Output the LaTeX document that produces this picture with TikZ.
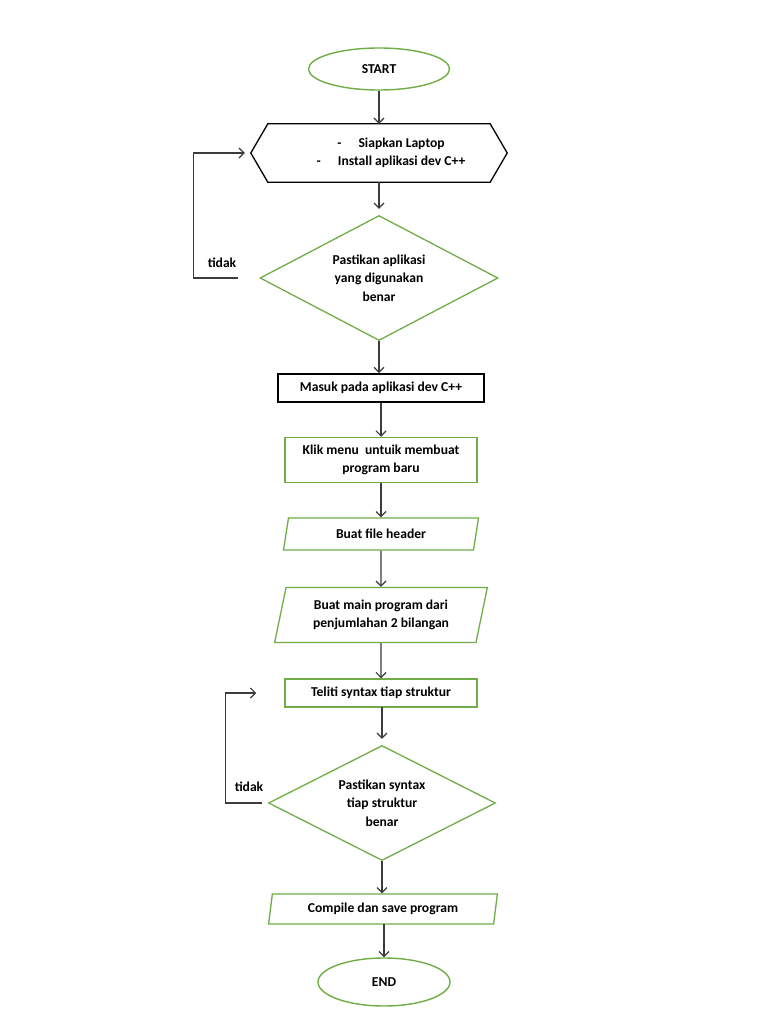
\documentclass[tikz,border=0pt]{standalone}
\usepackage{fontspec}
\setmainfont{Carlito}
\usetikzlibrary{shapes.geometric,arrows.meta}
\definecolor{hijau}{RGB}{112,173,71}
\definecolor{panah}{RGB}{60,60,60}
\tikzset{
	every node/.style={font=\fontsize{13.6}{18.5}\selectfont\bfseries, align=center},
	oval/.style={ellipse, draw=hijau, line width=1.4pt, inner sep=0pt},
	kotak/.style={rectangle, draw=hijau, line width=1.5pt, inner sep=0pt},
	kotakhitam/.style={rectangle, draw=black, line width=1.7pt, inner sep=0pt},
	keputusan/.style={diamond, draw=hijau, line width=1.3pt, aspect=1.9, inner sep=0pt},
	jajar/.style={trapezium, trapezium stretches=true, draw=hijau, line width=1.3pt, inner sep=0pt},
	panahku/.style={draw=panah, line width=1.2pt, -{Straight Barb[length=5pt,width=10pt]}}
}
\begin{document}
\begin{tikzpicture}[x=1pt, y=-1pt]
	\path[fill=white, use as bounding box] (0,0) rectangle (768,1024);
	% mulai
	\node[oval, minimum width=141pt, minimum height=42pt] (start) at (379,69) {START};
	% persiapan
	\node[inner sep=0pt, minimum width=256pt, minimum height=58pt] (siap) at (379,153)
		{\hspace*{24pt}-\hspace{17pt}Siapkan Laptop\\
		 \hspace*{24pt}-\hspace{17pt}Install aplikasi dev C++};
	\draw[line width=1.3pt] (siap.west) -- ([xshift=17pt]siap.north west)
		-- ([xshift=-17pt]siap.north east) -- (siap.east)
		-- ([xshift=-17pt]siap.south east) -- ([xshift=17pt]siap.south west) -- cycle;
	\node[keputusan, minimum width=238pt, minimum height=125pt] (cek1) at (379,278)
		{Pastikan aplikasi\\yang digunakan\\benar};
	\node (tidak1) at (222,263) {tidak};
	% langkah program
	\node[kotakhitam, minimum width=206pt, minimum height=28pt] (masuk) at (381,388)
		{Masuk pada aplikasi dev C++};
	\node[kotak, minimum width=192pt, minimum height=45pt] (klik) at (381,460)
		{Klik menu\ \ untuik membuat\\program baru};
	\node[jajar, trapezium left angle=76, trapezium right angle=104,
		minimum width=196pt, minimum height=32pt] (header) at (381,534) {Buat file header};
	\node[jajar, trapezium left angle=75, trapezium right angle=105,
		minimum width=213pt, minimum height=55pt] (mainprog) at (381,615)
		{Buat main program dari\\penjumlahan 2 bilangan};
	\node[kotak, minimum width=192pt, minimum height=28pt] (teliti) at (381,693)
		{Teliti syntax tiap struktur};
	\node[keputusan, minimum width=227pt, minimum height=115pt] (cek2) at (382,803)
		{Pastikan syntax\\tiap struktur\\benar};
	\node (tidak2) at (249,787) {tidak};
	\node[jajar, trapezium left angle=78, trapezium right angle=102,
		minimum width=229pt, minimum height=30pt] (compile) at (383,909)
		{Compile dan save program};
	\node[oval, minimum width=132pt, minimum height=48pt] (end) at (384,982) {END};

	% panah
	\draw[panahku] (start) -- (siap);
	\draw[panahku, shorten >=6pt] (siap) -- (cek1);
	\draw[panahku] (cek1.south) -- (cek1.south |- masuk.north);
	\draw[panahku] (masuk) -- (klik);
	\draw[panahku] (klik) -- (header);
	\draw[panahku] (header) -- (mainprog);
	\draw[panahku] (mainprog) -- (teliti);
	\draw[panahku, shorten >=6pt] (teliti.south) -- (teliti.south -| cek2.north) -- (cek2.north);
	\draw[panahku] (cek2.south) -- (cek2.south |- compile.north);
	\draw[panahku] (compile.south) -- (compile.south -| end.north) -- (end.north);
	% kembali jika tidak
	\draw[panahku, shorten <=21pt, shorten >=6pt] (cek1.west) -- ++(-66,0) |- (siap.west);
	\draw[panahku, shorten <=6pt, shorten >=28pt] (cek2.west) -- ++(-42,0) |- (teliti.west);
\end{tikzpicture}
\end{document}
